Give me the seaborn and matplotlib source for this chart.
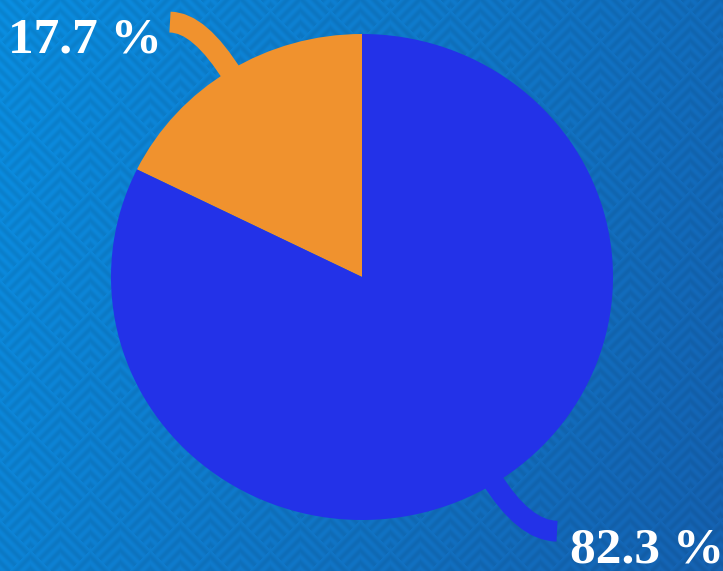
import numpy as np
import seaborn as sns
import matplotlib
matplotlib.use("Agg")
from matplotlib import pyplot as plt

# data
shares = [17.7, 82.3]
slice_colors = ["#F0922E", "#2332E8"]
labels = ["%.1f %%" % s for s in shares]

sns.set_style("white")
plt.rcParams["font.family"] = ["Liberation Serif", "DejaVu Serif"]

W, H = 723, 571
fig = plt.figure(figsize=(W / 100, H / 100), dpi=100)

# background: blue gradient with faint nested chevrons
yy, xx = np.mgrid[0:H, 0:W].astype(float)
t = np.clip(0.75 * xx / W + 0.25 * yy / H, 0, 1)[..., None]
left = np.array([0x0A, 0x8F, 0xE2]) / 255
right = np.array([0x15, 0x62, 0xB2]) / 255
img = left * (1 - t) + right * t
T, s = 60.0, 12.0
a = (xx + yy + 20) % T
b = (yy - xx + 20) % T
m = np.minimum(a, b)
shade = 0.5 - 0.5 * np.cos(2 * np.pi * m / s)
img = img * (1 - 0.08 * shade[..., None])
bg = fig.add_axes([0, 0, 1, 1])
bg.imshow(img, aspect="auto", interpolation="bilinear")
bg.axis("off")

ax = fig.add_axes([0, 0, 1, 1])
ax.set_facecolor("none")
wedges, _ = ax.pie(shares, colors=slice_colors, startangle=90, counterclock=True,
                   wedgeprops=dict(linewidth=0))
cx, cy, rx, ry = 362.0, 277.0, 251.0, 243.0
ax.set_xlim(-cx / rx, (W - cx) / rx)
ax.set_ylim(-(H - cy) / ry, cy / ry)
ax.set_aspect("auto")
ax.axis("off")

# leader lines and labels
ends = [(-0.765, 1.049), (0.777, -1.046)]
text_pos = [(-1.104, 0.975), (1.135, -1.125)]
for w, col, end, tp, lab in zip(wedges, slice_colors, ends, text_pos, labels):
    mid = np.deg2rad((w.theta1 + w.theta2) / 2)
    edge = (np.cos(mid) * 0.97, np.sin(mid) * 0.97)
    ax.annotate("", xy=edge, xytext=end,
                arrowprops=dict(arrowstyle="-", color=col, lw=15, shrinkA=0, shrinkB=0,
                                capstyle="butt",
                                connectionstyle="angle3,angleA=0,angleB=%.1f" % np.rad2deg(mid)))
    ax.text(tp[0], tp[1], lab, color="white", fontsize=37, fontweight="bold",
            ha="center", va="center")

fig.savefig("out.png", dpi=100)
